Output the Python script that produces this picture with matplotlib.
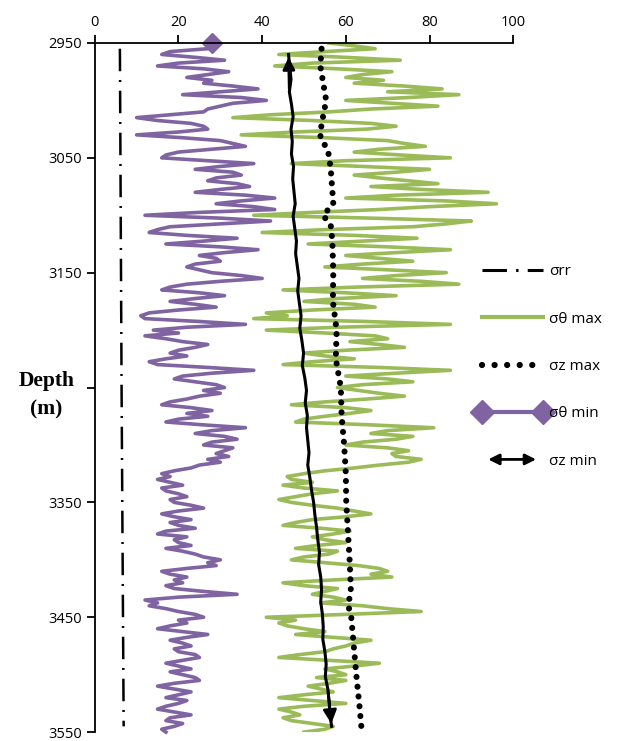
import numpy as np
import matplotlib.pyplot as plt
from matplotlib.lines import Line2D
from matplotlib.patches import FancyArrowPatch
from matplotlib.legend_handler import HandlerPatch

# sigma theta min (purple), one value every 2.5 m from 2950 to 3550
theta_min = [28, 29, 27, 18, 16, 24, 31, 20, 15, 26, 32, 27, 22, 28, 26, 33, 39, 30, 21, 35,
             41, 33, 30, 27, 26, 18, 10, 15, 23, 26, 27, 20, 10, 21, 30, 33, 36, 28, 20, 17,
             16, 27, 38, 30, 24, 33, 35, 29, 27, 34, 37, 30, 24, 36, 43, 35, 29, 38, 43, 25,
             12, 30, 42, 30, 18, 15, 13, 22, 34, 26, 17, 30, 39, 31, 25, 29, 30, 24, 22, 25,
             28, 35, 40, 30, 22, 18, 16, 25, 31, 24, 18, 24, 29, 20, 13, 11, 12, 25, 36, 22,
             14, 20, 12, 17, 21, 27, 24, 20, 18, 22, 17, 13, 15, 27, 38, 28, 21, 19, 24, 29,
             31, 26, 30, 25, 22, 18, 16, 23, 28, 22, 27, 20, 17, 26, 36, 28, 24, 31, 34, 28,
             26, 33, 31, 29, 32, 27, 30, 25, 23, 19, 16, 18, 15, 18, 21, 16, 17, 20, 22, 18,
             19, 23, 26, 20, 16, 19, 23, 18, 20, 24, 17, 15, 22, 19, 20, 23, 17, 21, 24, 26,
             30, 27, 29, 22, 16, 18, 22, 19, 21, 17, 19, 26, 34, 20, 12, 15, 13, 17, 20, 24,
             26, 20, 22, 18, 15, 21, 27, 22, 18, 21, 23, 19, 20, 24, 25, 21, 17, 20, 23, 18,
             21, 24, 25, 19, 15, 19, 23, 20, 17, 22, 20, 17, 15, 19, 23, 18, 17, 21, 19, 16, 17]

# sigma theta max (green), same depths
theta_max = [56, 62, 67, 55, 44, 60, 73, 52, 43, 58, 71, 64, 60, 69, 62, 74, 83, 70, 87, 75,
             60, 71, 82, 66, 56, 42, 33, 52, 66, 72, 65, 48, 35, 55, 70, 74, 79, 68, 62, 73,
             85, 60, 47, 64, 80, 72, 62, 68, 75, 82, 66, 78, 94, 72, 60, 84, 96, 80, 68, 52,
             38, 66, 90, 84, 76, 55, 40, 62, 77, 64, 51, 70, 85, 72, 60, 68, 76, 64, 55, 70,
             84, 72, 64, 78, 87, 63, 45, 60, 72, 58, 50, 62, 67, 52, 41, 46, 38, 65, 85, 58,
             41, 55, 67, 70, 61, 68, 74, 60, 50, 55, 62, 52, 45, 68, 85, 72, 60, 70, 76, 64,
             58, 63, 68, 74, 65, 55, 47, 60, 66, 61, 55, 50, 48, 66, 81, 70, 66, 76, 72, 64,
             60, 70, 75, 71, 72, 78, 75, 68, 62, 55, 50, 46, 47, 52, 45, 50, 58, 52, 48, 44,
             47, 52, 58, 62, 66, 60, 52, 48, 45, 54, 61, 57, 52, 55, 60, 53, 48, 58, 56, 50,
             47, 55, 63, 68, 70, 66, 71, 57, 45, 50, 58, 55, 52, 57, 60, 54, 64, 70, 78, 60,
             41, 48, 44, 46, 50, 55, 48, 57, 66, 62, 60, 57, 55, 49, 44, 56, 68, 62, 55, 58,
             60, 53, 60, 56, 51, 54, 57, 50, 44, 52, 60, 50, 44, 47, 49, 45, 47, 52, 57, 55, 50]

# sigma rr
rr_depth = [2955, 3250, 3545]
rr = [6.0, 6.4, 6.9]

# sigma z max
zmax_depth = [2955, 2970, 2985, 3000, 3015, 3030, 3045, 3060, 3075, 3090, 3100, 3110, 3125,
              3150, 3175, 3200, 3225, 3250, 3275, 3300, 3325, 3350, 3375, 3400, 3425, 3440,
              3450, 3475, 3500, 3525, 3545]
zmax = [54.2, 53.9, 54.6, 55.3, 54.5, 53.8, 55.8, 56.4, 56.7, 57.0, 54.6, 56.5, 56.8,
        57.0, 56.9, 57.8, 57.6, 58.8, 59.0, 59.6, 60.0, 60.1, 60.5, 60.9, 61.2, 60.6,
        61.3, 61.9, 62.5, 63.2, 63.7]

# sigma z min, evenly spaced from 2960 to 3545 m
zmin = [46.3, 46.6, 46.9, 46.5, 47.0, 47.4, 46.9, 47.2, 47.0, 47.5, 47.3, 47.6, 47.9, 47.4,
        47.8, 48.2, 48.0, 48.4, 48.8, 48.5, 48.9, 49.3, 49.0, 49.5, 49.9, 49.6, 50.2, 50.6,
        50.3, 50.8, 50.6, 50.9, 51.2, 50.9, 51.4, 51.8, 52.3, 52.6, 53.0, 53.3, 53.7, 53.5,
        54.0, 54.2, 54.0, 54.4, 54.6, 54.5, 55.0, 55.3, 55.1, 55.7, 56.0, 56.2, 56.6]

yticks = [2950, 3050, 3150, 3250, 3350, 3450, 3550]
ytick_labels = ['2950', '3050', '3150', '', '3350', '3450', '3550']

depth = np.linspace(2950, 3550, len(theta_min))
zmin_depth = np.linspace(2960, 3545, len(zmin))

purple = '#8064a2'
green = '#9bbb59'
sans = ['Open Sans', 'DejaVu Sans']

fig = plt.figure(figsize=(6.32, 7.41), dpi=100)
ax = fig.add_axes([0.150, 0.012, 0.662, 0.930])

ax.plot(rr, rr_depth, color='black', lw=1.8, linestyle=(0, (9, 3.5, 0.8, 3.5)))
ax.plot(theta_max, depth, color=green, lw=2.6)
ax.plot(zmax, zmax_depth, color='black', lw=4.4, linestyle=(0, (0.01, 1.6)),
        dash_capstyle='round')
ax.plot(theta_min, depth, color=purple, lw=2.6, marker='D', markersize=10,
        markevery=[0], clip_on=False)
ax.plot(zmin, zmin_depth, color='black', lw=2.2)
ax.annotate('', xy=(zmin[0], zmin_depth[0]), xytext=(zmin[3], zmin_depth[3]),
            arrowprops=dict(arrowstyle='-|>', color='black', lw=2, mutation_scale=18))
ax.annotate('', xy=(zmin[-1], zmin_depth[-1]), xytext=(zmin[-4], zmin_depth[-4]),
            arrowprops=dict(arrowstyle='-|>', color='black', lw=2, mutation_scale=20))

ax.set_xlim(0, 100)
ax.set_ylim(3550, 2950)
ax.xaxis.tick_top()
ax.set_xticks([0, 20, 40, 60, 80, 100])
ax.set_yticks(yticks)
ax.set_yticklabels(ytick_labels)
ax.spines['right'].set_visible(False)
ax.spines['bottom'].set_visible(False)
for s in ['left', 'top']:
    ax.spines[s].set_linewidth(1.3)
ax.tick_params(axis='both', direction='out', length=6, width=1.3, labelsize=10.5, pad=3)
for lab in ax.get_xticklabels() + ax.get_yticklabels():
    lab.set_family(sans)

ax.text(-0.115, 3257, 'Depth\n(m)', transform=ax.get_yaxis_transform(),
        ha='center', va='center', fontsize=15.5, fontweight='bold',
        family='Liberation Serif', linespacing=1.55)


def make_arrow(legend, orig_handle, xdescent, ydescent, width, height, fontsize):
    y = height / 2 - ydescent
    return FancyArrowPatch((-xdescent + 0.12 * width, y), (-xdescent + 0.88 * width, y),
                           arrowstyle='<|-|>', mutation_scale=16)


arrow_h = FancyArrowPatch((0, 0), (1, 1), arrowstyle='<|-|>', color='black', lw=2)
handles = [
    Line2D([], [], color='black', lw=2.2, linestyle=(0, (8, 3, 0.8, 3))),
    Line2D([], [], color=green, lw=3),
    Line2D([], [], color='black', lw=4.5, linestyle=(0, (0.01, 2.0)), dash_capstyle='round'),
    Line2D([], [], color=purple, lw=3, marker='D', markersize=12),
    arrow_h,
]
labels = ['σrr', 'σθ max', 'σz max', 'σθ min', 'σz min']
fig.legend(handles, labels, loc='upper left', bbox_to_anchor=(0.733, 0.662),
           frameon=False, numpoints=2, handlelength=4.6, handletextpad=0.1,
           labelspacing=2.12, prop={'family': sans, 'size': 11},
           handler_map={arrow_h: HandlerPatch(patch_func=make_arrow)})

fig.savefig('out.png', dpi=100)
